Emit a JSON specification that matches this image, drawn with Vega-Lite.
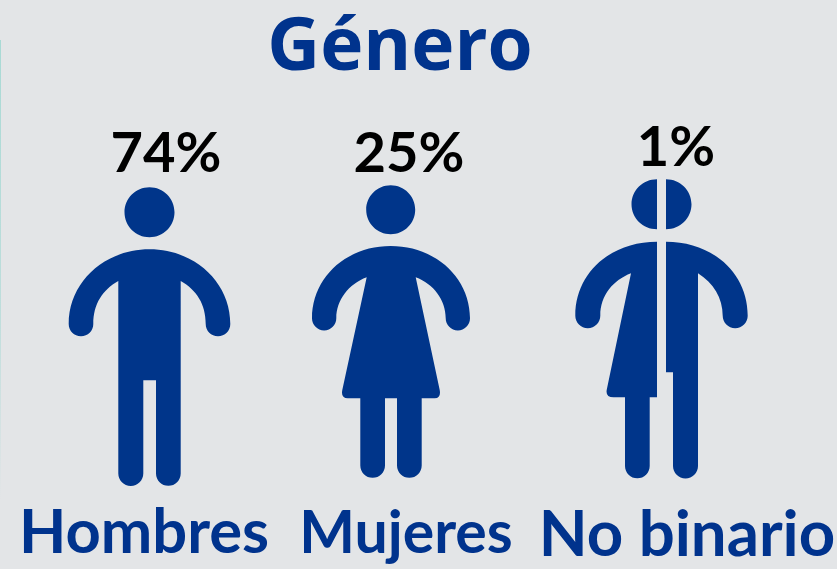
{
"$schema":"https://vega.github.io/schema/vega-lite/v6.json",
"width":837,"height":569,
"autosize":{"type":"fit","contains":"padding"},
"padding":0,
"background":"#e3e5e7",
"view":{"stroke":null},
"config":{"axis":{"disable":true}},
"data":{"values":[
{"grupo":"Hombres","orden":1,"pct":0.74},
{"grupo":"Mujeres","orden":2,"pct":0.25},
{"grupo":"No binario","orden":3,"pct":0.01}
]},
"layer":[
{"data":{"values":[{"inicio":40,"fin":500}]},
 "mark":{"type":"rect","fill":{"gradient":"linear","x1":0,"y1":0,"x2":0,"y2":1,"stops":[{"offset":0,"color":"#a9dad5"},{"offset":0.6,"color":"#bfdedc"},{"offset":1,"color":"#e3e5e7"}]}},
 "encoding":{
  "x":{"datum":0,"type":"quantitative","scale":{"domain":[0,1],"range":[0,1],"nice":false,"zero":false}},
  "x2":{"datum":1},
  "y":{"field":"inicio","type":"quantitative","scale":{"domain":[0,569],"range":[0,569],"nice":false,"zero":false}},
  "y2":{"field":"fin"}
 }},
{"mark":{"type":"point","filled":true,"size":4,"opacity":1,"fill":"#00358a","stroke":null},
 "encoding":{
  "x":{"field":"orden","type":"quantitative","scale":{"domain":[1,2,3],"range":[149.5,390.7,661.5],"nice":false,"zero":false}},
  "y":{"field":"orden","type":"quantitative","scale":{"domain":[1,3],"range":[340,340],"nice":false,"zero":false}},
  "shape":{"field":"grupo","type":"nominal","legend":null,"scale":{"domain":["Hombres","Mujeres","No binario"],"range":[
"M-25,-127.7A25,25 0 1 1 25,-127.7A25,25 0 1 1 -25,-127.7ZM0,-90.7C45,-90.7 80.8,-58 80.8,-16A12.3,12.3 0 0 1 56.2,-16C56.2,-36 47,-50 31.2,-59L31.2,133.5A12.35,12.35 0 0 1 6.5,133.5L6.5,40.3L-6.2,40.3L-6.2,133.5A12.5,12.5 0 0 1 -31.2,133.5L-31.2,-59C-47,-50 -56.2,-36 -56.2,-16A12.3,12.3 0 0 1 -80.8,-16C-80.8,-58 -45,-90.7 0,-90.7Z",
"M-24.5,-130.3A24.5,24.5 0 1 1 24.5,-130.3A24.5,24.5 0 1 1 -24.5,-130.3ZM0,-94C45,-94 79.3,-62 79.3,-21.7A12.15,12.15 0 0 1 55,-21.7C55,-40 43,-56 25,-62.7L49,50Q50.5,58.3 44,58.3L31,58.3L31,125.4A12.35,12.35 0 0 1 6.3,125.4L6.3,58.3L-5.7,58.3L-5.7,125.4A12.35,12.35 0 0 1 -30.4,125.4L-30.4,58.3L-43,58.3Q-50,58.3 -48.4,50L-24,-62.7C-42,-56 -54.4,-40 -54.4,-21.7A12.15,12.15 0 0 1 -78.7,-21.7C-78.7,-62 -45,-94 0,-94Z",
"M-4.5,-160.7A25.5,25 0 0 0 -4.5,-110.7ZM4.5,-160.7A25.5,25 0 0 1 4.5,-110.7ZM-4.5,-98.3L-4.5,57.3L-11.8,57.3L-11.8,126A12.35,12.35 0 0 1 -36.5,126L-36.5,57.3L-48,57.3Q-56,57.3 -54.8,50L-30.5,-66.7C-48,-60 -61.2,-45 -61.2,-24.3A12.5,12.5 0 0 1 -86.2,-24.3C-86.2,-68 -50,-98.3 -4.5,-98.3ZM4.5,-98.3C50,-98.3 86.2,-68 86.2,-24.3A12.5,12.5 0 0 1 61.2,-24.3C61.2,-42 52,-57 36.5,-66.7L36.5,126A12.5,12.5 0 0 1 11.5,126L11.5,32.3L4.5,32.3Z"
]}}
 }},
{"mark":{"type":"text","font":"Lato","fontWeight":"bold","fontSize":56,"color":"#000000","align":"center","baseline":"alphabetic"},
 "encoding":{
  "x":{"field":"orden","type":"quantitative","scale":{"domain":[1,2,3],"range":[166,409,676],"nice":false,"zero":false}},
  "y":{"field":"orden","type":"quantitative","scale":{"domain":[1,2,3],"range":[172,172,166],"nice":false,"zero":false}},
  "text":{"field":"pct","type":"quantitative","format":".0%"}
 }},
{"mark":{"type":"text","font":"Lato","fontWeight":"bold","color":"#00338d","align":"center","baseline":"alphabetic"},
 "encoding":{
  "x":{"field":"orden","type":"quantitative","scale":{"domain":[1,2,3],"range":[144,406,687],"nice":false,"zero":false}},
  "y":{"field":"orden","type":"quantitative","scale":{"domain":[1,2,3],"range":[553,553,556],"nice":false,"zero":false}},
  "size":{"field":"orden","type":"quantitative","legend":null,"scale":{"domain":[1,2,3],"range":[61.5,59,63.5],"nice":false,"zero":false}},
  "text":{"field":"grupo","type":"nominal"}
 }},
{"data":{"values":[{"titulo":"Género"}]},
 "mark":{"type":"text","font":"Open Sans","fontWeight":"bold","fontSize":73,"color":"#00338d","align":"center","baseline":"alphabetic"},
 "encoding":{
  "x":{"datum":1,"type":"quantitative","scale":{"domain":[0,1],"range":[0,400],"nice":false,"zero":false}},
  "y":{"datum":1,"type":"quantitative","scale":{"domain":[0,1],"range":[0,70],"nice":false,"zero":false}},
  "text":{"field":"titulo","type":"nominal"}
 }}
],
"resolve":{"scale":{"x":"independent","y":"independent","shape":"independent","size":"independent"}}
}
